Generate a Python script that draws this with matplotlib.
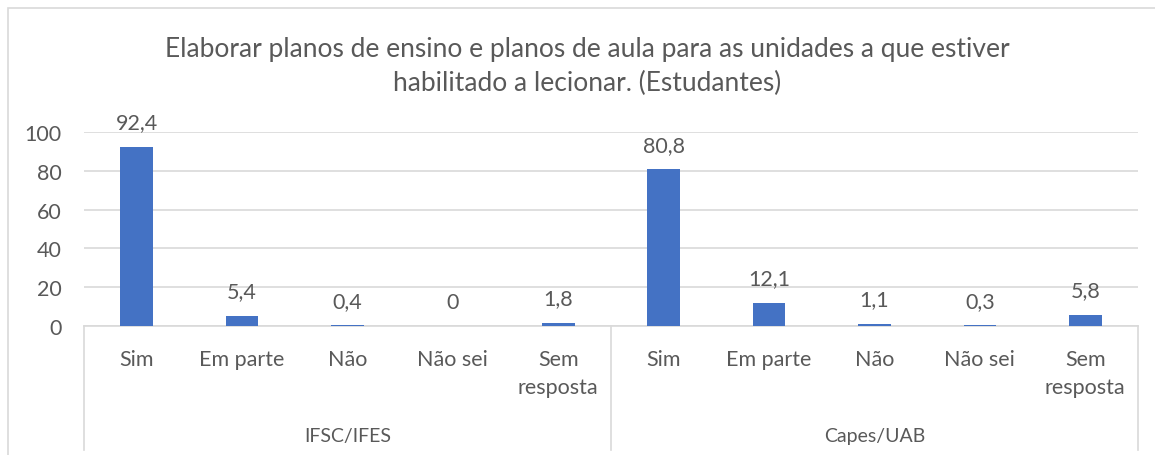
import matplotlib
matplotlib.use("Agg")
import matplotlib.pyplot as plt
from matplotlib.lines import Line2D
from matplotlib.patches import Rectangle

plt.rcParams['font.family'] = ['Lato', 'DejaVu Sans']

groups = ["IFSC/IFES", "Capes/UAB"]
categories = ["Sim", "Em parte", "Não", "Não sei", "Sem\nresposta"]
values_ifsc = [92.4, 5.4, 0.4, 0, 1.8]
values_capes = [80.8, 12.1, 1.1, 0.3, 5.8]
value_labels_ifsc = ["92,4", "5,4", "0,4", "0", "1,8"]
value_labels_capes = ["80,8", "12,1", "1,1", "0,3", "5,8"]
yticks = [0, 20, 40, 60, 80, 100]
title = "Elaborar planos de ensino e planos de aula para as unidades a que estiver\nhabilitado a lecionar. (Estudantes)"

TXT = "#595959"
GRID = "#d9d9d9"
BAR = "#4472C4"
FS = 15.5

W, H = 1155, 456
fig = plt.figure(figsize=(W / 100, H / 100), dpi=100)

def fx(px):
    return px / W

def fy(py):
    return 1 - py / H

ax_left, ax_right, ax_top, ax_bot = 84, 1138, 133, 327
ax = fig.add_axes([fx(ax_left), fy(ax_bot), fx(ax_right - ax_left), fy(ax_top) - fy(ax_bot)])

values = values_ifsc + values_capes
labels = value_labels_ifsc + value_labels_capes
cats = categories * 2
xs = list(range(len(values)))

ax.bar(xs, values, width=0.31, color=BAR, zorder=3)
ax.set_xlim(-0.5, len(values) - 0.5)
ax.set_ylim(0, 100)
ax.set_yticks(yticks)
ax.set_yticklabels([str(t) for t in yticks], fontsize=FS, color=TXT)
ax.tick_params(axis='y', length=0, pad=16)
ax.set_xticks([])
ax.yaxis.grid(True, color=GRID, linewidth=1.2, zorder=0)
for s in ["top", "right", "left"]:
    ax.spines[s].set_visible(False)
ax.spines["bottom"].set_color(GRID)
ax.spines["bottom"].set_linewidth(1.2)

for x, v, lab in zip(xs, values, labels):
    ax.annotate(lab, (x, v), xytext=(0, 17.5), textcoords="offset points",
                ha="center", va="center", fontsize=FS, color=TXT)

# category labels
for x, c in zip(xs, cats):
    ax.annotate(c, (x, 0), xycoords=("data", "axes fraction"), xytext=(0, -16.5),
                textcoords="offset points", ha="center", va="top", fontsize=FS,
                color=TXT, linespacing=1.5)

# group labels
n = len(categories)
for gi, g in enumerate(groups):
    xc = gi * n + (n - 1) / 2
    ax.annotate(g, (xc, 0), xycoords=("data", "axes fraction"), xytext=(0, -73),
                textcoords="offset points", ha="center", va="top", fontsize=14,
                color=TXT)

# group separators
for px in [ax_left, (ax_left + ax_right) / 2, ax_right]:
    fig.add_artist(Line2D([fx(px), fx(px)], [fy(ax_bot), fy(451)], color=GRID,
                          linewidth=1.2, transform=fig.transFigure))

# chart border
fig.add_artist(Rectangle((fx(8), fy(470)), fx(1160), fy(9) - fy(470), fill=False,
                         edgecolor=GRID, linewidth=1.2, transform=fig.transFigure))

fig.text(fx(587), fy(66.5), title, ha="center", va="center", fontsize=19,
         color=TXT, linespacing=1.45)

fig.savefig("out.png", dpi=100)
